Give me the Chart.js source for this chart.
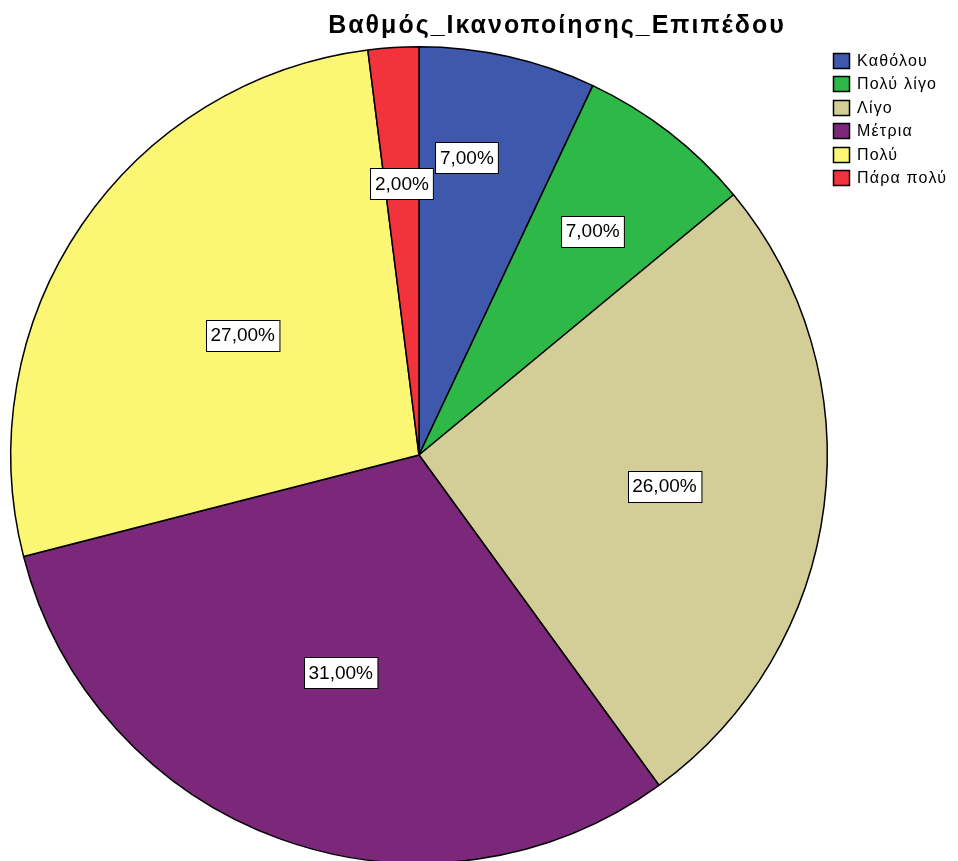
<!DOCTYPE html>
<html>
<head>
<meta charset="utf-8">
<title>Βαθμός_Ικανοποίησης_Επιπέδου</title>
<script src="https://cdn.jsdelivr.net/npm/chart.js@4.4.1/dist/chart.umd.min.js"></script>
<style>
  html, body { margin: 0; padding: 0; background: #fff; overflow: hidden; }
  #wrap { width: 958px; height: 870px; }
</style>
</head>
<body>
<div id="wrap"><canvas id="pieChart" width="958" height="870"></canvas></div>
<script>
'use strict';

const chartTitle = 'Βαθμός_Ικανοποίησης_Επιπέδου';
const categories = ['Καθόλου', 'Πολύ λίγο', 'Λίγο', 'Μέτρια', 'Πολύ', 'Πάρα πολύ'];
const percentages = [7, 7, 26, 31, 27, 2];
const sliceColors = ['#3E58AC', '#2EB848', '#D3CE97', '#7B287A', '#FBF774', '#F2323C'];

// where each percent box sits inside its slice (fraction of radius / of the slice angle)
const labelRadius = [0.738, 0.694, 0.606, 0.566, 0.522, 0.666];
const labelAngle = [0.363, 0.5, 0.5, 0.5, 0.5, 0.5];

const FONT = '"Liberation Sans", Arial, sans-serif';

const formatPercent = (v) => v.toFixed(2).replace('.', ',') + '%';

const sketchPlugin = {
    id: 'sketchPlugin',
    afterDraw(chart) {
        const ctx = chart.ctx;
        const meta = chart.getDatasetMeta(0);

        // percent boxes
        ctx.save();
        ctx.font = '19px ' + FONT;
        ctx.textAlign = 'center';
        ctx.textBaseline = 'middle';
        meta.data.forEach((arc, i) => {
            const p = arc.getProps(['x', 'y', 'startAngle', 'endAngle', 'outerRadius'], true);
            const a = p.startAngle + (p.endAngle - p.startAngle) * labelAngle[i];
            const r = p.outerRadius * labelRadius[i];
            const cx = p.x + Math.cos(a) * r;
            const cy = p.y + Math.sin(a) * r;
            const text = formatPercent(percentages[i]);
            const w = ctx.measureText(text).width + 9;
            const h = 31;
            const bx = Math.round(cx - w / 2) + 0.5;
            const by = Math.round(cy - h / 2) + 0.5;
            ctx.fillStyle = '#fff';
            ctx.fillRect(bx, by, w, h);
            ctx.strokeStyle = '#000';
            ctx.lineWidth = 1;
            ctx.strokeRect(bx, by, w, h);
            ctx.fillStyle = '#000';
            ctx.fillText(text, cx, cy + 1);
        });
        ctx.restore();

        // title
        ctx.save();
        ctx.font = 'bold 25px ' + FONT;
        ctx.letterSpacing = '2px';
        ctx.fillStyle = '#000';
        ctx.textAlign = 'center';
        ctx.textBaseline = 'alphabetic';
        ctx.fillText(chartTitle, 557, 33);
        ctx.restore();

        // legend
        ctx.save();
        ctx.font = '16px ' + FONT;
        ctx.letterSpacing = '1.2px';
        ctx.textBaseline = 'alphabetic';
        categories.forEach((label, i) => {
            const top = 53 + i * 23.4;
            ctx.fillStyle = sliceColors[i];
            ctx.fillRect(833.5, Math.round(top) + 0.5, 16, 15);
            ctx.strokeStyle = '#000';
            ctx.lineWidth = 1.5;
            ctx.strokeRect(833.5, Math.round(top) + 0.5, 16, 15);
            ctx.fillStyle = '#000';
            ctx.fillText(label, 857, top + 13);
        });
        ctx.restore();
    }
};

new Chart('pieChart', {
    type: 'pie',
    data: {
        labels: categories,
        datasets: [{
            data: percentages,
            backgroundColor: sliceColors,
            borderColor: '#000',
            borderWidth: 1.5
        }]
    },
    options: {
        responsive: false,
        animation: false,
        devicePixelRatio: 1,
        layout: {
            padding: { left: 10, top: 46, right: 130, bottom: 6 }
        },
        plugins: {
            legend: { display: false },
            title: { display: false },
            tooltip: { enabled: false }
        }
    },
    plugins: [sketchPlugin]
});
</script>
</body>
</html>
